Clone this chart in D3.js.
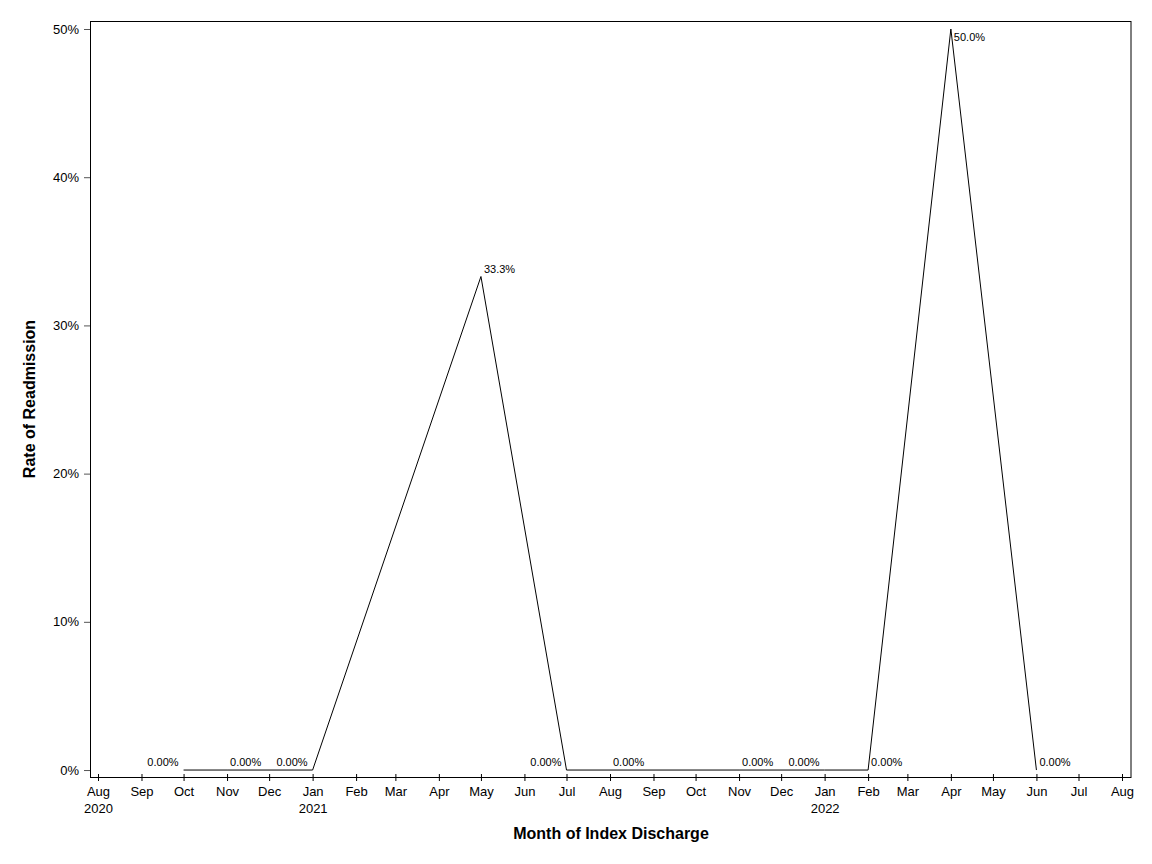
<!DOCTYPE html>
<html>
<head>
<meta charset="utf-8">
<script src="https://cdn.jsdelivr.net/npm/d3@7"></script>
<style>
  body { margin: 0; background: #fff; }
  svg { font-family: "Liberation Sans", Arial, sans-serif; }
</style>
</head>
<body>
<svg id="chart" width="1152" height="864"></svg>
<script>
// data
const months = ['2020-10', '2020-11', '2021-01', '2021-05', '2021-07', '2021-08', '2021-11', '2022-01', '2022-02', '2022-04', '2022-06'];
const rates = [0, 0, 0, 0.333, 0, 0, 0, 0, 0, 0.5, 0];
const rateLabels = ['0.00%', '0.00%', '0.00%', '33.3%', '0.00%', '0.00%', '0.00%', '0.00%', '0.00%', '50.0%', '0.00%'];
const labelSide = ['left', 'right', 'left', 'right', 'left', 'right', 'right', 'left', 'right', 'below', 'right'];
const yTicks = [0, 0.1, 0.2, 0.3, 0.4, 0.5];
const yearLabels = { '2020-08': '2020', '2021-01': '2021', '2022-01': '2022' };

const parseMonth = d3.timeParse('%Y-%m');
const points = months.map((m, i) => ({ date: parseMonth(m), rate: rates[i], label: rateLabels[i], side: labelSide[i] }));

const margin = { top: 21, right: 21, bottom: 87, left: 91 };
const svg = d3.select('#chart');
const width = +svg.attr('width') - margin.left - margin.right;
const height = +svg.attr('height') - margin.top - margin.bottom;

function translate(x, y) {
  return `translate(${x}, ${y})`;
}

const g = svg.append('g').attr('transform', translate(margin.left, margin.top));

const xScale = d3.scaleTime()
  .domain([parseMonth('2020-08'), parseMonth('2022-08')])
  .range([7, width - 9]);
const yScale = d3.scaleLinear()
  .domain([-0.0047, 0.5054])
  .range([height, 0]);

// x axis
const xAxis = g.append('g')
  .attr('transform', translate(0, height))
  .call(d3.axisBottom(xScale)
    .ticks(d3.timeMonth.every(1))
    .tickSize(4)
    .tickPadding(6)
    .tickFormat(d3.timeFormat('%b')));
xAxis.select('.domain').remove();
xAxis.selectAll('.tick line').attr('y1', -3).attr('stroke', '#000');
xAxis.selectAll('.tick text')
  .attr('font-size', 13).attr('font-family', null).attr('fill', '#000')
  .each(function(d) {
    const yr = yearLabels[d3.timeFormat('%Y-%m')(d)];
    if (yr) {
      d3.select(this.parentNode).append('text')
        .attr('y', 36).attr('fill', '#000').attr('font-size', 13)
        .attr('text-anchor', 'middle')
        .text(yr);
    }
  });

// y axis
const yAxis = g.append('g')
  .call(d3.axisLeft(yScale)
    .tickValues(yTicks)
    .tickSize(7)
    .tickPadding(5)
    .tickFormat(d3.format('.0%')));
yAxis.select('.domain').remove();
yAxis.selectAll('.tick line').attr('stroke', '#555');
yAxis.selectAll('.tick text').attr('font-size', 13).attr('font-family', null).attr('fill', '#000');

// frame
g.append('rect')
  .attr('x', -0.5).attr('y', 0.5)
  .attr('width', width + 0.5).attr('height', height)
  .attr('fill', 'none').attr('stroke', '#000').attr('stroke-width', 1);

// line
const line = d3.line()
  .x(p => xScale(p.date))
  .y(p => yScale(p.rate));
g.append('path')
  .datum(points)
  .attr('d', line)
  .attr('fill', 'none')
  .attr('stroke', '#000')
  .attr('stroke-width', 1);

// data labels
g.selectAll('.dlabel')
  .data(points)
  .enter()
  .append('text')
    .attr('class', 'dlabel')
    .attr('font-size', 11)
    .attr('fill', '#000')
    .attr('text-anchor', p => p.side === 'left' ? 'end' : 'start')
    .attr('x', p => xScale(p.date) + (p.side === 'left' ? -5 : 3))
    .attr('y', p => yScale(p.rate) + (p.side === 'below' ? 12 : -4))
    .text(p => p.label);

// axis titles
svg.append('text')
  .attr('transform', translate(35, margin.top + height / 2) + ' rotate(-90)')
  .attr('text-anchor', 'middle')
  .attr('font-size', 16).attr('font-weight', 'bold')
  .text('Rate of Readmission');

svg.append('text')
  .attr('x', margin.left + width / 2)
  .attr('y', 839)
  .attr('text-anchor', 'middle')
  .attr('font-size', 16).attr('font-weight', 'bold')
  .text('Month of Index Discharge');
</script>
</body>
</html>
